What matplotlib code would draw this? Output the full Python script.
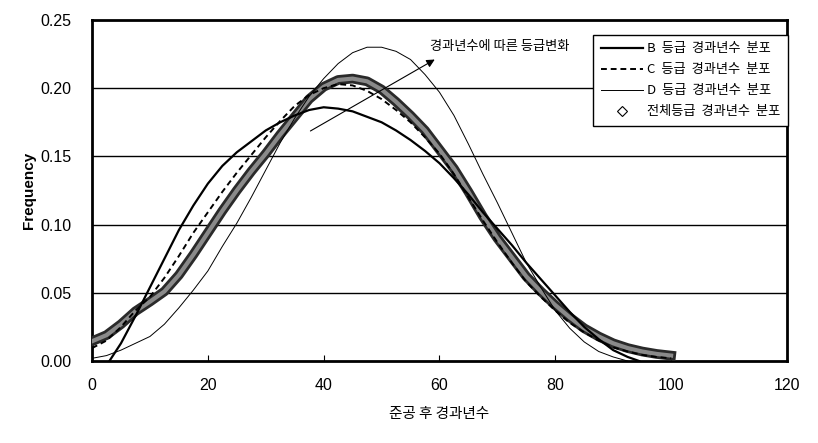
import numpy as np
import matplotlib
matplotlib.use('Agg')
import matplotlib.pyplot as plt
import matplotlib.patheffects as pe
from matplotlib.lines import Line2D

plt.rcParams['font.family'] = ['Noto Sans CJK KR', 'DejaVu Sans']

# 경과년수 (x) 와 등급별 빈도
x_b = [3, 5, 7.5, 10, 12.5, 15, 17.5, 20, 22.5, 25, 27.5, 30, 32.5, 35, 37.5, 40, 42.5, 45,
       47.5, 50, 52.5, 55, 57.5, 60, 62.5, 65, 67.5, 70, 72.5, 75, 77.5, 80, 82.5, 85,
       87.5, 90, 92.5, 94.5]
y_b = [0.0, 0.013, 0.033, 0.054, 0.075, 0.096, 0.114, 0.130, 0.143, 0.153, 0.161, 0.169,
       0.175, 0.180, 0.184, 0.186, 0.185, 0.183, 0.179, 0.175, 0.169, 0.162, 0.154, 0.145,
       0.134, 0.122, 0.109, 0.097, 0.085, 0.072, 0.060, 0.048, 0.036, 0.025, 0.016, 0.008,
       0.003, 0.0]

x_c = [0, 2.5, 5, 7.5, 10, 12.5, 15, 17.5, 20, 22.5, 25, 27.5, 30, 32.5, 35, 37.5, 40, 42.5,
       45, 47.5, 50, 52.5, 55, 57.5, 60, 62.5, 65, 67.5, 70, 72.5, 75, 77.5, 80, 82.5, 85,
       87.5, 90, 92.5, 95, 97.5, 100]
y_c = [0.0095, 0.015, 0.025, 0.037, 0.047, 0.061, 0.077, 0.094, 0.109, 0.124, 0.138, 0.151,
       0.164, 0.176, 0.187, 0.195, 0.200, 0.203, 0.202, 0.198, 0.192, 0.184, 0.175, 0.164,
       0.152, 0.137, 0.120, 0.103, 0.087, 0.072, 0.058, 0.047, 0.037, 0.028, 0.021, 0.015,
       0.010, 0.007, 0.0045, 0.003, 0.002]

x_d = [0, 2.5, 5, 7.5, 10, 12.5, 15, 17.5, 20, 22.5, 25, 27.5, 30, 32.5, 35, 37.5, 40, 42.5,
       45, 47.5, 50, 52.5, 55, 57.5, 60, 62.5, 65, 67.5, 70, 72.5, 75, 77.5, 80, 82.5, 85,
       87.5, 90, 92.5]
y_d = [0.002, 0.004, 0.008, 0.013, 0.018, 0.027, 0.039, 0.052, 0.066, 0.084, 0.101, 0.120,
       0.140, 0.160, 0.178, 0.194, 0.207, 0.218, 0.226, 0.230, 0.230, 0.227, 0.221, 0.210,
       0.197, 0.180, 0.159, 0.137, 0.116, 0.094, 0.072, 0.054, 0.037, 0.024, 0.014, 0.007,
       0.003, 0.0]

x_all = [0, 2.5, 5, 7.5, 10, 12.5, 15, 17.5, 20, 22.5, 25, 27.5, 30, 32.5, 35, 37.5, 40, 42.5,
         45, 47.5, 50, 52.5, 55, 57.5, 60, 62.5, 65, 67.5, 70, 72.5, 75, 77.5, 80, 82.5, 85,
         87.5, 90, 92.5, 95, 97.5, 100]
y_all = [0.0145, 0.019, 0.027, 0.0365, 0.0435, 0.051, 0.063, 0.078, 0.094, 0.110, 0.125,
         0.139, 0.152, 0.166, 0.179, 0.192, 0.201, 0.206, 0.207, 0.205, 0.199, 0.190, 0.180,
         0.169, 0.155, 0.141, 0.124, 0.106, 0.090, 0.076, 0.062, 0.051, 0.041, 0.032, 0.024,
         0.018, 0.013, 0.0095, 0.007, 0.0052, 0.004]

labels = ['B  등급  경과년수  분포', 'C  등급  경과년수  분포',
          'D  등급  경과년수  분포', '전체등급  경과년수  분포']

fig = plt.figure(figsize=(8.18, 4.43), dpi=100)
ax = fig.add_axes([0.1125, 0.185, 0.8495, 0.77])

narrow = ['Liberation Sans Narrow', 'Liberation Sans', 'DejaVu Sans']

for v in [0.05, 0.10, 0.15, 0.20]:
    ax.axhline(v, color='black', lw=1.0, zorder=1)

# 전체등급: 다이아몬드가 겹쳐 만든 굵은 띠
ax.plot(x_all, y_all, color='#8a8a8a', lw=3.0, zorder=3,
        path_effects=[pe.Stroke(linewidth=7, foreground='#2a2a2a'), pe.Normal()])
ax.plot(x_b, y_b, color='black', lw=1.6, zorder=4)
ax.plot(x_c, y_c, color='black', lw=1.4, ls=(0, (3, 2)), zorder=4)
ax.plot(x_d, y_d, color='black', lw=0.7, zorder=4)

ax.annotate('', xy=(59.6, 0.222), xytext=(37.3, 0.1676),
            arrowprops=dict(arrowstyle='-|>', color='black', lw=0.8,
                            mutation_scale=12), zorder=5)
ax.text(58.3, 0.2305, '경과년수에 따른 등급변화', fontsize=9.5, va='center', ha='left', zorder=5)

ax.set_xlim(0, 120)
ax.set_ylim(0, 0.25)
ax.set_xticks(range(0, 121, 20))
ax.set_yticks([0, 0.05, 0.10, 0.15, 0.20, 0.25])
ax.set_yticklabels(['0.00', '0.05', '0.10', '0.15', '0.20', '0.25'])
ax.tick_params(axis='x', direction='in', length=4, width=0.8, pad=12)
ax.tick_params(axis='y', length=0, pad=15)
for lab in ax.get_xticklabels() + ax.get_yticklabels():
    lab.set_family(narrow)
    lab.set_fontsize(11.5)
for s in ax.spines.values():
    s.set_linewidth(2.0)

ax.set_xlabel('준공 후 경과년수', fontsize=10.5, labelpad=10)
ax.set_ylabel('Frequency', fontsize=11, family=narrow, fontweight='bold')
ax.yaxis.set_label_coords(-0.08, 0.5)

handles = [Line2D([], [], color='black', lw=1.6),
           Line2D([], [], color='black', lw=1.4, ls=(0, (3, 2))),
           Line2D([], [], color='black', lw=0.7),
           Line2D([], [], color='black', ls='none', marker='D', markersize=5,
                  markerfacecolor='white', markeredgewidth=0.8)]
leg = fig.legend(handles, labels, loc='upper right', bbox_to_anchor=(0.972, 0.937),
                 fontsize=9.5, frameon=True, fancybox=False, edgecolor='black',
                 framealpha=1, handlelength=3.2, handletextpad=0.3, labelspacing=0.6,
                 borderpad=0.6)
leg.get_frame().set_linewidth(1.0)

fig.savefig('out.png', dpi=100)
